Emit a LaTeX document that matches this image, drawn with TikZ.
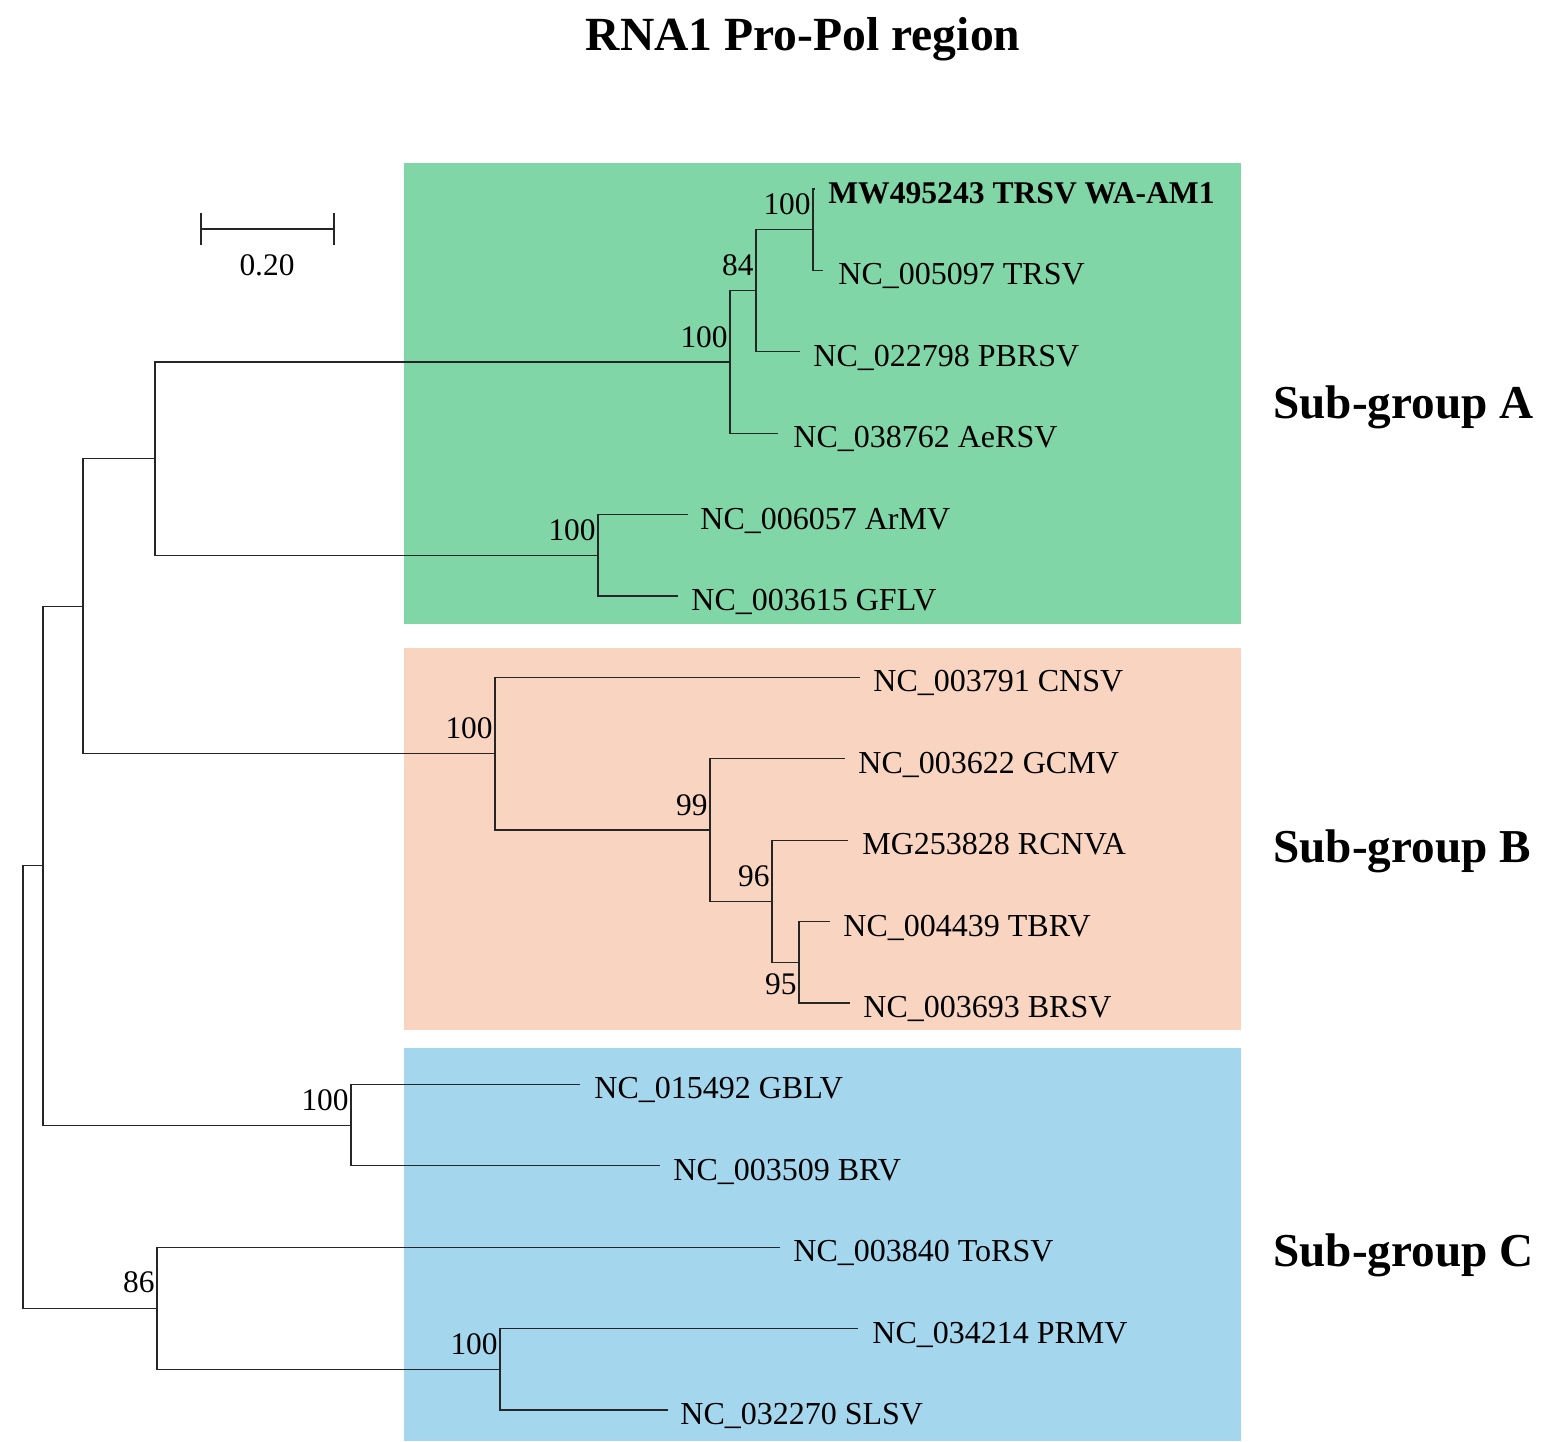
\documentclass[tikz,border=0pt]{standalone}
\usepackage{fontspec}
\setmainfont{Liberation Serif}
\definecolor{grpA}{RGB}{128,214,167}
\definecolor{grpB}{RGB}{248,212,193}
\definecolor{grpC}{RGB}{164,215,238}
\begin{document}
\begin{tikzpicture}[x=0.5pt,y=-0.5pt,
  br/.style={line width=0.6pt, draw=black!85},
  tip/.style={font=\fontsize{16pt}{18pt}\selectfont, anchor=base west, inner sep=0pt},
  boot/.style={font=\fontsize{15.7pt}{18pt}\selectfont, anchor=base east, inner sep=0pt},
  grp/.style={font=\fontsize{23.6pt}{28pt}\selectfont\bfseries, anchor=base west, inner sep=0pt}]
\useasboundingbox (0,0) rectangle (1548,1441);
\fill[white] (0,0) rectangle (1548,1441);
% background boxes
\fill[grpA] (404,163) rectangle (1241,624);
\fill[grpB] (404,648) rectangle (1241,1030);
\fill[grpC] (404,1048) rectangle (1241,1441);
% title
\node[font=\fontsize{23.8pt}{28pt}\selectfont\bfseries, anchor=base, inner sep=0pt] (title) at (803,50) {RNA1 Pro-Pol region};
% scale bar
\coordinate (sb1) at (201,229);
\coordinate (sb2) at (334,229);
\draw[br] (sb1) -- (sb2);
\draw[br] ([yshift=-8]sb1) -- ([yshift=8]sb1);
\draw[br] ([yshift=-8]sb2) -- ([yshift=8]sb2);
\node[boot, anchor=base] (sblab) at (267,275) {0.20};
% tip ends
\coordinate (t1) at (815,189);
\coordinate (t2) at (823,270.4);
\coordinate (t3) at (800,351.8);
\coordinate (t4) at (778,433.2);
\coordinate (t5) at (688,514.6);
\coordinate (t6) at (678,596);
\coordinate (t7) at (860,677.4);
\coordinate (t8) at (845,758.8);
\coordinate (t9) at (848,840.2);
\coordinate (t10) at (830,921.6);
\coordinate (t11) at (850,1003);
\coordinate (t12) at (580,1084.4);
\coordinate (t13) at (660,1165.8);
\coordinate (t14) at (780,1247.2);
\coordinate (t15) at (858,1328.6);
\coordinate (t16) at (668,1410);
% tip labels
\node[tip, font=\fontsize{15.8pt}{18pt}\selectfont\bfseries] (l1) at (828,203.5) {MW495243 TRSV WA-AM1};
\node[tip] (l2) at (838,284.9) {NC\_005097 TRSV};
\node[tip] (l3) at (813,366.3) {NC\_022798 PBRSV};
\node[tip] (l4) at (793,447.7) {NC\_038762 AeRSV};
\node[tip] (l5) at (700,529.1) {NC\_006057 ArMV};
\node[tip] (l6) at (691,610.5) {NC\_003615 GFLV};
\node[tip] (l7) at (873,691.9) {NC\_003791 CNSV};
\node[tip] (l8) at (858,773.3) {NC\_003622 GCMV};
\node[tip] (l9) at (862,854.7) {MG253828 RCNVA};
\node[tip] (l10) at (843,936.1) {NC\_004439 TBRV};
\node[tip] (l11) at (863,1017.5) {NC\_003693 BRSV};
\node[tip] (l12) at (594,1098.9) {NC\_015492 GBLV};
\node[tip] (l13) at (673,1180.3) {NC\_003509 BRV};
\node[tip] (l14) at (793,1261.7) {NC\_003840 ToRSV};
\node[tip] (l15) at (872,1343.1) {NC\_034214 PRMV};
\node[tip] (l16) at (680,1424.5) {NC\_032270 SLSV};
% internal nodes
\coordinate (n1) at (813,229.7);
\coordinate (n2) at (756,290.7);
\coordinate (n3) at (730,362);
\coordinate (n4) at (598,555.3);
\coordinate (n5) at (155,458.6);
\coordinate (n6) at (799,962.3);
\coordinate (n7) at (772,901.2);
\coordinate (n8) at (710,830);
\coordinate (n9) at (495,753.7);
\coordinate (n10) at (83,606.2);
\coordinate (n11) at (351,1125.1);
\coordinate (n12) at (43,865.6);
\coordinate (n13) at (500,1369.3);
\coordinate (n14) at (157,1308.2);
\coordinate (root) at (23,1086.9);
% branches
\draw[br] (n1) |- (t1);
\draw[br] (n1) |- (t2);
\draw[br] (n2) |- (n1);
\draw[br] (n2) |- (t3);
\draw[br] (n3) |- (n2);
\draw[br] (n3) |- (t4);
\draw[br] (n4) |- (t5);
\draw[br] (n4) |- (t6);
\draw[br] (n5) |- (n3);
\draw[br] (n5) |- (n4);
\draw[br] (n6) |- (t10);
\draw[br] (n6) |- (t11);
\draw[br] (n7) |- (t9);
\draw[br] (n7) |- (n6);
\draw[br] (n8) |- (t8);
\draw[br] (n8) |- (n7);
\draw[br] (n9) |- (t7);
\draw[br] (n9) |- (n8);
\draw[br] (n10) |- (n5);
\draw[br] (n10) |- (n9);
\draw[br] (n11) |- (t12);
\draw[br] (n11) |- (t13);
\draw[br] (n12) |- (n10);
\draw[br] (n12) |- (n11);
\draw[br] (n13) |- (t15);
\draw[br] (n13) |- (t16);
\draw[br] (n14) |- (t14);
\draw[br] (n14) |- (n13);
\draw[br] (root) |- (n12);
\draw[br] (root) |- (n14);
% bootstrap values
\node[boot] (b1) at (811,214.7) {100};
\node[boot] (b2) at (754,275.7) {84};
\node[boot] (b3) at (728,347) {100};
\node[boot] (b4) at (596,540.3) {100};
\node[boot] (b6) at (797,994) {95};
\node[boot] (b7) at (770,886.2) {96};
\node[boot] (b8) at (708,815) {99};
\node[boot] (b9) at (493,738.7) {100};
\node[boot] (b11) at (349,1110.1) {100};
\node[boot] (b13) at (498,1354.3) {100};
\node[boot] (b14) at (155,1292.2) {86};
% group labels
\node[grp] (gA) at (1273,418) {Sub-group A};
\node[grp] (gB) at (1273,862) {Sub-group B};
\node[grp] (gC) at (1273,1266) {Sub-group C};
\end{tikzpicture}
\end{document}
